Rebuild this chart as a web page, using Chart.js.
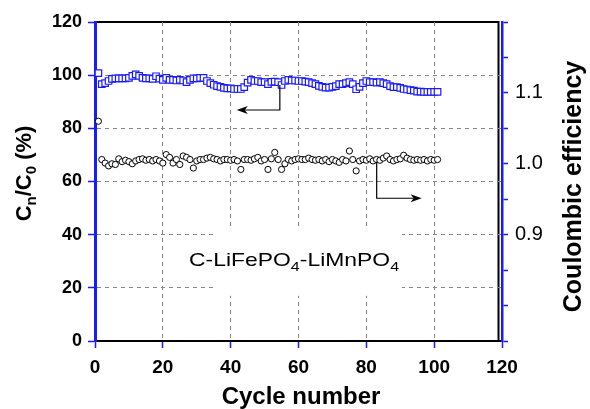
<!DOCTYPE html>
<html><head><meta charset="utf-8">
<script src="https://cdn.jsdelivr.net/npm/chart.js@4/dist/chart.umd.min.js"></script>
<style>html,body{margin:0;padding:0;background:#fff;}#wrap{width:590px;height:409px;}</style>
</head><body><div id="wrap"><canvas id="c" width="590" height="409"></canvas></div>
<script>
// ---- data ----
const cycles = [1,2,3,4,5,6,7,8,9,10,11,12,13,14,15,16,17,18,19,20,
  21,22,23,24,25,26,27,28,29,30,31,32,33,34,35,36,37,38,39,40,
  41,42,43,44,45,46,47,48,49,50,51,52,53,54,55,56,57,58,59,60,
  61,62,63,64,65,66,67,68,69,70,71,72,73,74,75,76,77,78,79,80,
  81,82,83,84,85,86,87,88,89,90,91,92,93,94,95,96,97,98,99,100,101];
const capacityRetention = [100.8,96.6,97.0,97.8,98.6,98.8,98.8,98.8,98.8,99.0,
  99.7,100.3,99.7,99.0,98.8,98.8,98.6,99.6,98.7,98.2,
  99.0,98.2,98.2,98.0,98.2,98.0,97.4,98.2,98.8,98.8,
  99.0,99.0,97.8,97.0,96.4,95.9,95.6,95.2,95.0,95.0,
  94.8,94.8,94.8,95.5,97.2,98.2,97.8,97.8,97.4,97.4,
  96.6,97.5,97.6,97.4,96.3,97.8,98.2,98.0,98.0,97.8,
  97.8,97.6,97.4,97.0,96.6,96.0,95.6,95.3,95.3,95.6,
  95.9,96.6,96.6,97.0,97.4,96.6,94.7,95.6,97.0,97.8,
  97.4,97.4,97.2,97.4,97.0,96.6,95.9,95.5,95.5,95.2,
  94.8,94.6,94.4,94.2,93.8,93.8,93.7,93.7,93.7,93.7,93.7];
const coulombicEfficiency = [1.060,1.006,1.001,0.997,1.000,0.999,1.007,1.003,1.005,1.003,
  1.000,1.004,1.006,1.007,1.005,1.006,1.004,1.006,1.004,1.001,
  1.013,1.009,1.001,1.006,0.999,1.011,1.009,1.006,0.994,1.004,
  1.006,1.006,1.008,1.009,1.007,1.006,1.004,1.006,1.006,1.005,
  1.006,1.004,0.992,1.006,1.006,1.005,1.007,1.009,1.004,1.006,
  0.992,1.007,1.016,1.006,0.992,1.000,1.006,1.004,1.006,1.007,
  1.006,1.006,1.008,1.006,1.005,1.006,1.004,1.006,1.003,1.006,
  1.004,1.002,1.006,1.004,1.018,1.006,0.990,1.004,1.006,1.005,
  1.007,1.004,1.006,1.005,1.008,1.011,1.006,1.004,1.006,1.007,
  1.012,1.008,1.006,1.005,1.006,1.005,1.006,1.004,1.006,1.005,1.006];
const xTickValues = [0,20,40,60,80,100,120];
const leftTickValues = [0,20,40,60,80,100,120];
const rightLabelledTicks = [0.9,1.0,1.1];

const FONT = "'Liberation Sans', Arial, Helvetica, sans-serif";
const BLUE = '#1a1aff';
const GRID = '#858585';

const capPoints = cycles.map((c,i)=>({x:c,y:capacityRetention[i]}));
const cePoints = cycles.map((c,i)=>({x:c,y:coulombicEfficiency[i]}));

function gridColor(ctx){
  const v = ctx.tick && ctx.tick.value;
  return (v===0 || v===120) ? 'rgba(0,0,0,0)' : GRID;
}

function drawRich(ctx, parts, x, y, align){
  // parts: [{t, size, dy}]
  let total = 0;
  parts.forEach(p=>{ctx.font = `${p.w||'bold'} ${p.size}px ${FONT}`; p.width = ctx.measureText(p.t).width; total += p.width;});
  let cx = align==='center' ? x - total/2 : x;
  parts.forEach(p=>{ctx.font = `${p.w||'bold'} ${p.size}px ${FONT}`; ctx.fillText(p.t, cx, y + (p.dy||0)); cx += p.width;});
  return total;
}

const framePlugin = {
  id:'frame',
  beforeDraw(chart){
    const {ctx, chartArea:a} = chart;
    ctx.save();
    ctx.strokeStyle = '#000'; ctx.lineWidth = 2;
    ctx.beginPath();
    ctx.moveTo(a.left, a.top); ctx.lineTo(a.right-3.5, a.top); ctx.lineTo(a.right-3.5, a.bottom);
    ctx.stroke();
    ctx.restore();
  }
};

const annotPlugin = {
  id:'annot',
  beforeDatasetsDraw(chart){
    const {ctx, scales:{x, y}} = chart;
    // white label box
    ctx.save();
    ctx.fillStyle = '#fff';
    const bx0 = x.getPixelForValue(36), bx1 = x.getPixelForValue(90.5);
    const by0 = y.getPixelForValue(43), by1 = y.getPixelForValue(17);
    ctx.fillRect(bx0, by0, bx1-bx0, by1-by0);
    ctx.restore();
  },
  afterDatasetsDraw(chart){
    const {ctx, scales:{x, y}} = chart;
    ctx.save();
    ctx.strokeStyle = '#000'; ctx.fillStyle = '#000'; ctx.lineWidth = 1.2;
    function arrow(cx, vTop, vBot, cTip){
      const px = x.getPixelForValue(cx), py0 = y.getPixelForValue(vTop), py1 = y.getPixelForValue(vBot);
      const tx = x.getPixelForValue(cTip);
      const dir = tx < px ? -1 : 1;
      ctx.beginPath(); ctx.moveTo(px, py0); ctx.lineTo(px, py1); ctx.lineTo(tx - dir*8, py1); ctx.stroke();
      ctx.beginPath(); ctx.moveTo(tx, py1); ctx.lineTo(tx - dir*11, py1-4); ctx.lineTo(tx - dir*8, py1); ctx.lineTo(tx - dir*11, py1+4); ctx.closePath(); ctx.fill();
    }
    arrow(54.5, 96.3, 86.9, 41.8);
    arrow(83.05, 67.4, 53.7, 96.3);
    // label text
    ctx.textBaseline = 'alphabetic';
    const lx = x.getPixelForValue(58.7), ly = y.getPixelForValue(28.2);
    const parts = [{t:'C-LiFePO',size:18.5,w:'normal'},{t:'4',size:13,dy:5,w:'normal'},{t:'-LiMnPO',size:18.5,w:'normal'},{t:'4',size:13,dy:5,w:'normal'}];
    let total = 0;
    parts.forEach(p=>{ctx.font = `normal ${p.size}px ${FONT}`; total += ctx.measureText(p.t).width;});
    const sx = 210/total;
    ctx.translate(lx, ly); ctx.scale(sx, 1);
    drawRich(ctx, parts, 0, 0, 'center');
    ctx.restore();
  },
  afterDraw(chart){
    const {ctx} = chart;
    ctx.save();
    ctx.fillStyle = '#000';
    ctx.textBaseline = 'alphabetic';
    // bottom title
    ctx.font = `bold 24px ${FONT}`; ctx.textAlign = 'center';
    ctx.fillText('Cycle number', 301, 404);
    ctx.textAlign = 'left';
    // left title
    ctx.save();
    ctx.translate(31, 173.5); ctx.rotate(-Math.PI/2);
    drawRich(ctx, [{t:'C',size:22},{t:'n',size:15,dy:5},{t:'/C',size:22},{t:'0',size:15,dy:5},{t:' (%)',size:22}], 0, 0, 'center');
    ctx.restore();
    // right title
    ctx.save();
    ctx.translate(581, 186.5); ctx.rotate(-Math.PI/2);
    ctx.font = `bold 25px ${FONT}`; ctx.textAlign = 'center';
    ctx.fillText('Coulombic efficiency', 0, 0);
    ctx.restore();
    ctx.restore();
  }
};

new Chart(document.getElementById('c'), {
  type:'scatter',
  data:{datasets:[
    {label:'Cn/C0', data:capPoints, yAxisID:'y', pointStyle:'rect', radius:4.6, borderWidth:1.2,
     borderColor:BLUE, backgroundColor:'#fff', showLine:false},
    {label:'CE', data:cePoints, yAxisID:'y2', pointStyle:'circle', radius:3.1, borderWidth:1,
     borderColor:'#000', backgroundColor:'#fff', showLine:false}
  ]},
  options:{
    responsive:false, animation:false, devicePixelRatio:1,
    layout:{padding:{top:22,left:0,right:0,bottom:0}},
    plugins:{legend:{display:false}, tooltip:{enabled:false}},
    scales:{
      x:{type:'linear', min:0, max:120,
        afterBuildTicks(s){ s.ticks = xTickValues.map(v=>({value:v})); },
        ticks:{font:{family:FONT,size:19,weight:'bold'}, color:'#000', padding:8, maxRotation:0, autoSkip:false},
        grid:{color:gridColor, lineWidth:1, tickColor:BLUE, tickLength:7, tickWidth:1.5},
        border:{display:true, color:'#000', width:2, dash:[4,4]},
        afterFit(s){ s.height = 68; }
      },
      y:{position:'left', min:0, max:120,
        afterBuildTicks(s){ s.ticks = leftTickValues.map(v=>({value:v})); },
        ticks:{font:{family:FONT,size:18,weight:'bold'}, color:'#000', padding:6, autoSkip:false},
        grid:{color:gridColor, lineWidth:1, tickColor:BLUE, tickLength:7, tickWidth:1.5},
        border:{display:true, color:BLUE, width:3, dash:[4,4]},
        afterFit(s){ s.width = 95; }
      },
      y2:{position:'right', min:0.75, max:1.2,
        ticks:{stepSize:0.05, autoSkip:false, font:{family:FONT,size:20}, color:'#000', padding:7,
          callback(v){ const r = Math.round(v*100)/100; return rightLabelledTicks.some(t=>Math.abs(t-r)<1e-6) ? r.toFixed(1) : ''; }},
        grid:{drawOnChartArea:false, tickColor:BLUE, tickLength:6, tickWidth:1.5},
        border:{display:true, color:BLUE, width:2.5},
        afterFit(s){ s.width = 88; }
      }
    }
  },
  plugins:[framePlugin, annotPlugin]
});
</script>
</body></html>
